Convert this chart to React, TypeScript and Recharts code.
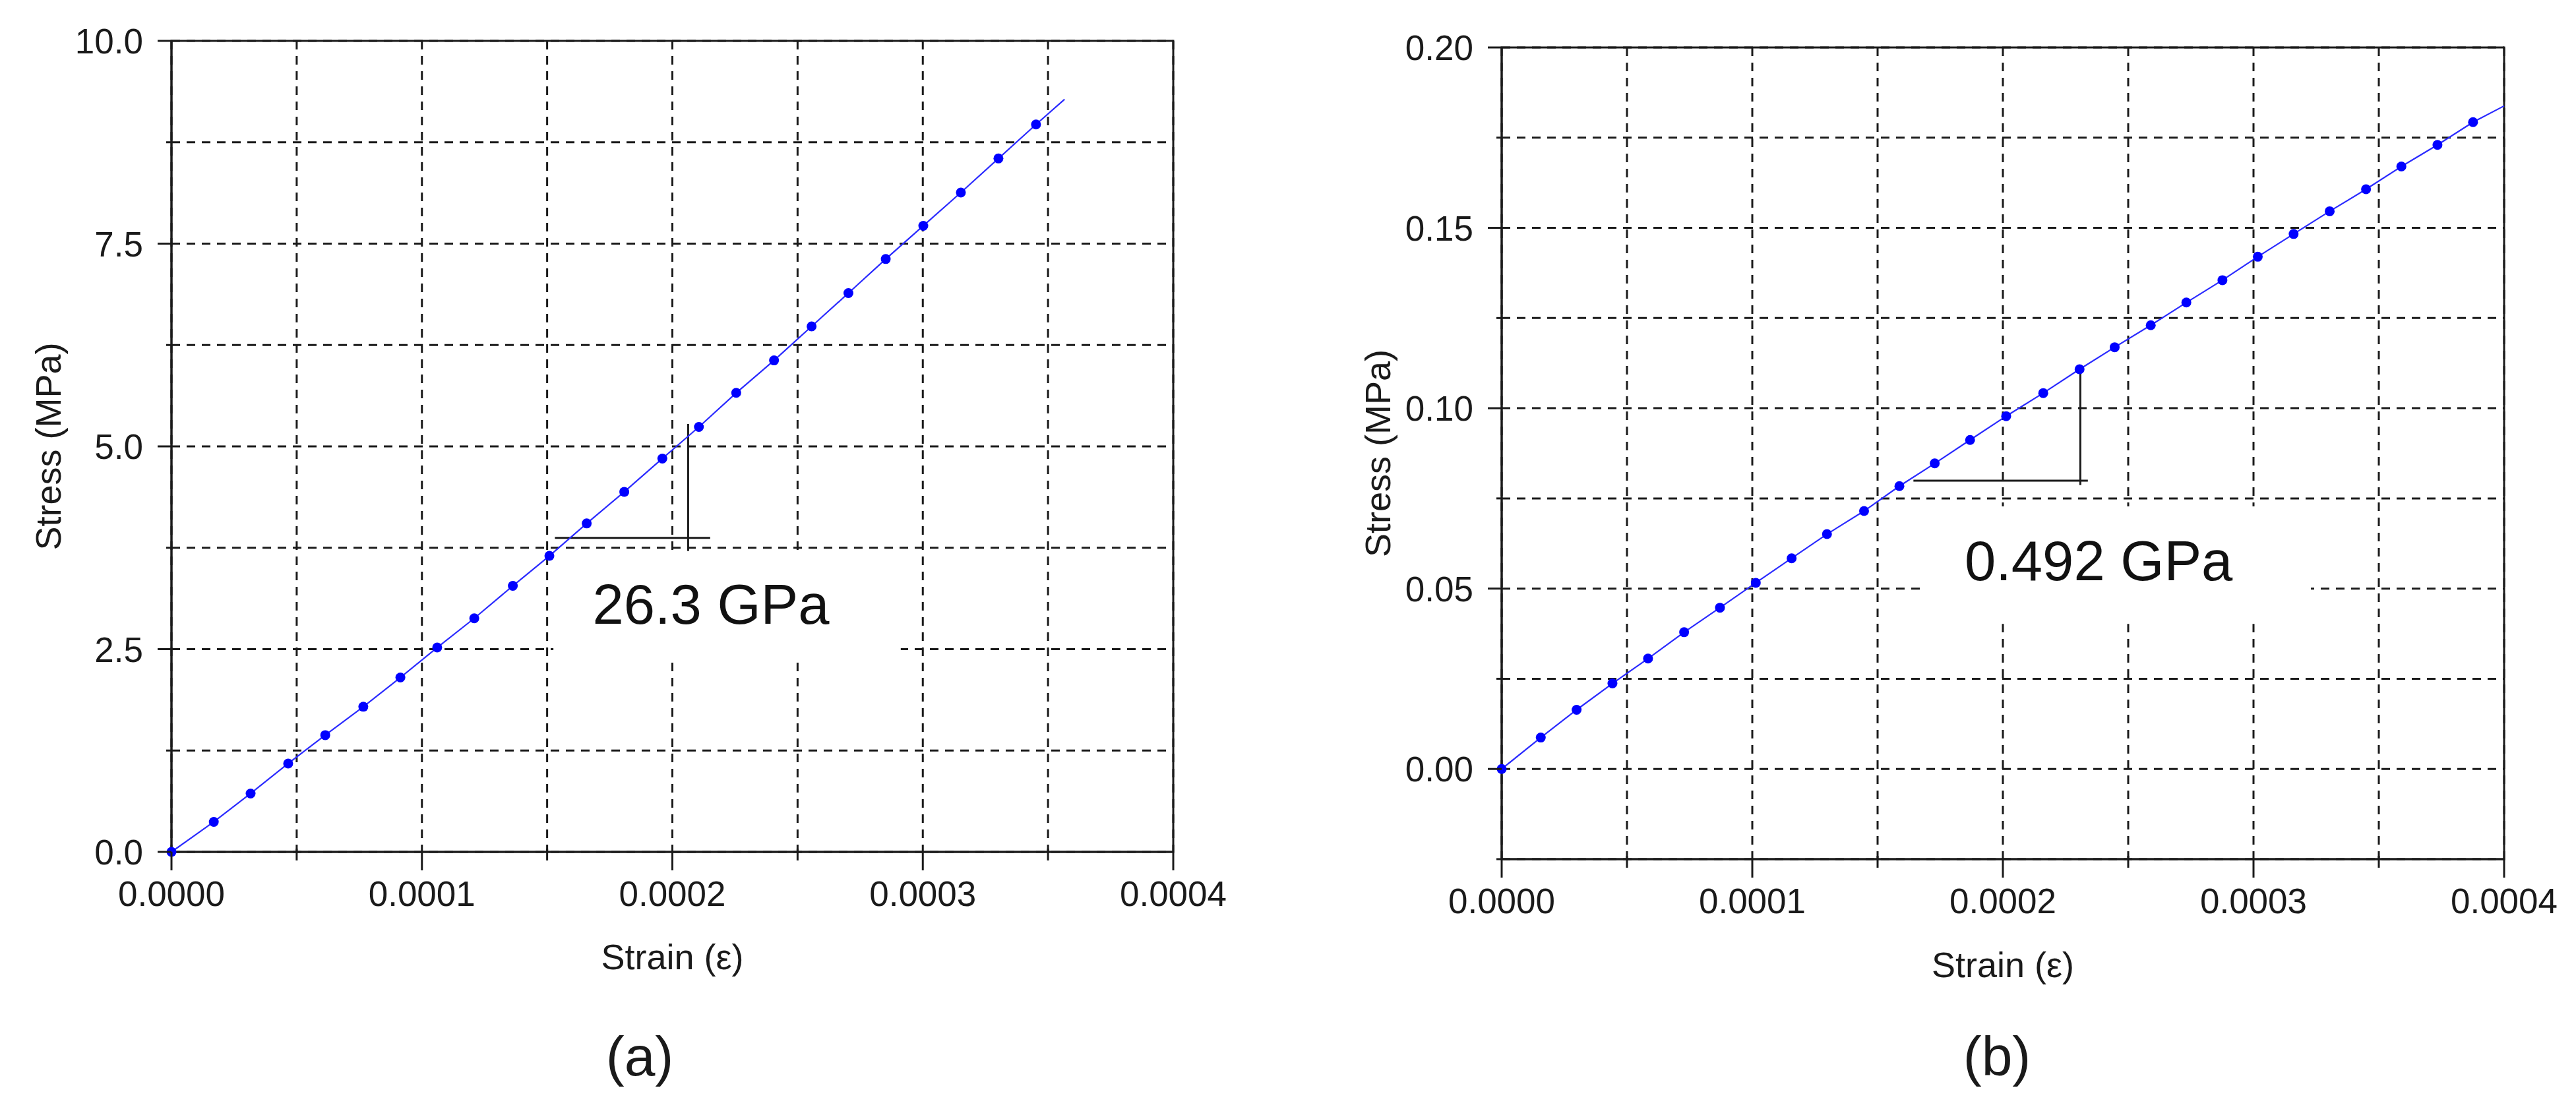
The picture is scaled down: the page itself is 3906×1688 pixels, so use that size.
import React from "react";
import {
  CartesianGrid,
  Line,
  LineChart,
  ReferenceArea,
  ReferenceDot,
  ReferenceLine,
  XAxis,
  YAxis,
} from "recharts";

// (a) measured points
const strainA = [
  0, 0.0000169, 0.0000316, 0.0000466, 0.0000614, 0.0000766, 0.0000914, 0.0001061,
  0.0001209, 0.0001363, 0.0001509, 0.0001658, 0.0001808, 0.000196, 0.0002106, 0.0002255,
  0.0002406, 0.0002556, 0.0002703, 0.0002852, 0.0003002, 0.0003152, 0.0003302, 0.0003452,
];
const stressA = [
  0, 0.37, 0.72, 1.09, 1.44, 1.79, 2.15, 2.52, 2.88, 3.28, 3.65, 4.05, 4.44, 4.85, 5.24,
  5.66, 6.06, 6.48, 6.89, 7.31, 7.72, 8.13, 8.55, 8.97,
];
const lineEndA = [0.0003566, 9.28];

// (b) measured points
const strainB = [
  0, 0.0000156, 0.0000299, 0.0000442, 0.0000584, 0.0000728, 0.0000871, 0.0001014,
  0.0001157, 0.0001298, 0.0001446, 0.0001587, 0.0001728, 0.0001869, 0.0002013, 0.0002161,
  0.0002306, 0.0002446, 0.000259, 0.0002732, 0.0002876, 0.0003017, 0.000316, 0.0003304,
  0.0003449, 0.000359, 0.0003734, 0.0003876,
];
const stressB = [
  0, 0.0087, 0.0164, 0.0237, 0.0306, 0.0379, 0.0447, 0.0516, 0.0584, 0.0651, 0.0715,
  0.0784, 0.0847, 0.0912, 0.0978, 0.1042, 0.1108, 0.1169, 0.123, 0.1293, 0.1355, 0.142,
  0.1483, 0.1546, 0.1607, 0.167, 0.173, 0.1793,
];
const lineEndB = [0.0004, 0.1838];

const strainTicks = [0, 0.00005, 0.0001, 0.00015, 0.0002, 0.00025, 0.0003, 0.00035, 0.0004];
const stressTicksA = [0, 1.25, 2.5, 3.75, 5, 6.25, 7.5, 8.75, 10];
const stressTicksB = [-0.025, 0, 0.025, 0.05, 0.075, 0.1, 0.125, 0.15, 0.175, 0.2];

// slope triangles: run [x1, x2, y], rise [x, y1, y2]
const runA = [0.0001531, 0.0002151, 3.872];
const riseA = [0.0002063, 3.71, 5.277];
const runB = [0.0001643, 0.0002339, 0.0799];
const riseB = [0.0002309, 0.0787, 0.1113];

// modulus labels: text, anchor [x, y], blank box [x1, x2, y1, y2]
const modulusA = "26.3 GPa";
const modulusAtA = [0.0002154, 3.057];
const blankA = [0.0001525, 0.0002912, 2.415, 3.691];
const modulusB = "0.492 GPa";
const modulusAtB = [0.0002382, 0.0578];
const blankB = [0.0001687, 0.0003229, 0.0402, 0.0728];

const INK = "#1a1a1a";
const FONT = '"Liberation Sans", Arial, sans-serif';

const isMajor = (v: number, step: number) => Math.abs(v / step - Math.round(v / step)) < 1e-6;

function StrainTick(props: any) {
  const { x, y, payload } = props;
  const major = isMajor(payload.value, 0.0001);
  return (
    <g>
      <line x1={x} x2={x} y1={major ? y : y - 5} y2={major ? y + 28 : y + 13} stroke={INK} strokeWidth={3} />
      {major && (
        <text x={x} y={y + 82} textAnchor="middle" fontSize={53} fill={INK}>
          {payload.value.toFixed(4)}
        </text>
      )}
    </g>
  );
}

const stressTick = (step: number, digits: number) => (props: any) => {
  const { x, y, payload } = props;
  const major = isMajor(payload.value, step);
  return (
    <g>
      <line x1={major ? x - 21 : x - 8} x2={x} y1={y} y2={y} stroke={INK} strokeWidth={3} />
      {major && (
        <text x={x - 43} y={y + 19} textAnchor="end" fontSize={53} fill={INK}>
          {payload.value.toFixed(digits)}
        </text>
      )}
    </g>
  );
};

const dotFor = (count: number) => (p: any) =>
  p.index < count ? (
    <circle key={`d${p.index}`} cx={p.cx} cy={p.cy} r={7.5} fill="#0000ff" />
  ) : (
    <g key={`d${p.index}`} />
  );

function Panel(props: any) {
  const { strain, stress, lineEnd, yDomain, yTicks, yStep, yDigits, run, rise, modulus, modulusAt, blank } = props;
  const data = strain.map((s: number, i: number) => ({ strain: s, stress: stress[i] }));
  data.push({ strain: lineEnd[0], stress: lineEnd[1] });
  return (
    <LineChart width={props.width} height={props.height} data={data} margin={props.margin} style={{ fontFamily: FONT }}>
      <CartesianGrid stroke={INK} strokeWidth={3} strokeDasharray="13 10" />
      <ReferenceArea x1={blank[0]} x2={blank[1]} y1={blank[2]} y2={blank[3]} fill="#ffffff" fillOpacity={1} stroke="none" />
      <ReferenceArea x1={0} x2={0.0004} y1={yDomain[0]} y2={yDomain[1]} fill="none" stroke={INK} strokeWidth={3} />
      <ReferenceLine segment={[{ x: run[0], y: run[2] }, { x: run[1], y: run[2] }]} stroke={INK} strokeWidth={3} ifOverflow="visible" />
      <ReferenceLine segment={[{ x: rise[0], y: rise[1] }, { x: rise[0], y: rise[2] }]} stroke={INK} strokeWidth={3} ifOverflow="visible" />
      <ReferenceDot
        x={modulusAt[0]}
        y={modulusAt[1]}
        r={0}
        fill="none"
        stroke="none"
        label={{ value: modulus, position: "center", fontSize: 85, fill: "#111" }}
      />
      <XAxis
        type="number"
        dataKey="strain"
        domain={[0, 0.0004]}
        ticks={strainTicks}
        interval={0}
        height={props.xAxisHeight}
        tickSize={0}
        tickMargin={0}
        tickLine={false}
        tick={StrainTick}
        axisLine={{ stroke: INK, strokeWidth: 3 }}
        label={{ value: "Strain (ε)", position: "insideBottom", offset: 0, fontSize: 54, fill: INK }}
      />
      <YAxis
        type="number"
        domain={yDomain}
        ticks={yTicks}
        interval={0}
        width={200}
        tickSize={0}
        tickMargin={0}
        tickLine={false}
        tick={stressTick(yStep, yDigits)}
        axisLine={{ stroke: INK, strokeWidth: 3 }}
        label={{
          value: "Stress (MPa)",
          angle: -90,
          position: "insideLeft",
          offset: props.yLabelOffset,
          textAnchor: "middle",
          fontSize: 54,
          fill: INK,
        }}
      />
      <Line
        type="linear"
        dataKey="stress"
        stroke="#2a2aff"
        strokeWidth={2.2}
        dot={dotFor(strain.length)}
        activeDot={false}
        isAnimationActive={false}
      />
    </LineChart>
  );
}

function Caption({ text, cx }: { text: string; cx: number }) {
  return (
    <div
      style={{
        position: "absolute",
        left: cx - 150,
        top: 1560,
        width: 300,
        textAlign: "center",
        fontSize: 84,
        lineHeight: "84px",
        color: INK,
        fontFamily: FONT,
      }}
    >
      {text}
    </div>
  );
}

export default function App() {
  return (
    <div style={{ position: "absolute", left: 0, top: 0, width: 3906, height: 1688, background: "#fff" }}>
      <div style={{ position: "absolute", left: 0, top: 0 }}>
        <Panel
          strain={strainA}
          stress={stressA}
          lineEnd={lineEndA}
          yDomain={[0, 10]}
          yTicks={stressTicksA}
          yStep={2.5}
          yDigits={1}
          run={runA}
          rise={riseA}
          modulus={modulusA}
          modulusAt={modulusAtA}
          blank={blankA}
          width={1900}
          height={1688}
          margin={{ top: 62, right: 121, bottom: 218, left: 60 }}
          xAxisHeight={178}
          yLabelOffset={13}
        />
      </div>
      <div style={{ position: "absolute", left: 1950, top: 0 }}>
        <Panel
          strain={strainB}
          stress={stressB}
          lineEnd={lineEndB}
          yDomain={[-0.025, 0.2]}
          yTicks={stressTicksB}
          yStep={0.05}
          yDigits={2}
          run={runB}
          rise={riseB}
          modulus={modulusB}
          modulusAt={modulusAtB}
          blank={blankB}
          width={1956}
          height={1688}
          margin={{ top: 72, right: 109, bottom: 206, left: 127 }}
          xAxisHeight={179}
          yLabelOffset={12}
        />
      </div>
      <Caption text="(a)" cx={970} />
      <Caption text="(b)" cx={3028} />
    </div>
  );
}
